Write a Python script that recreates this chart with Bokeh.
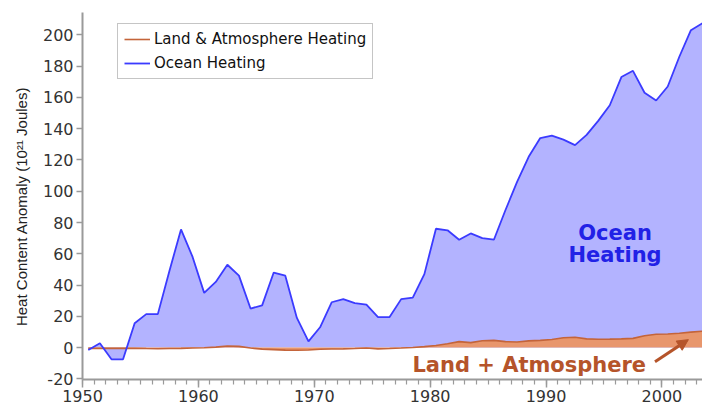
from bokeh.plotting import figure
from bokeh.models import (Range1d, SingleIntervalTicker, Legend, LegendItem,
                          Label, Arrow, NormalHead, ColumnDataSource, Title,
                          PrintfTickFormatter)
from bokeh.embed import file_html
from bokeh.resources import INLINE

# ---- data ----
years = [y + 0.5 for y in range(1950, 2004)]
ocean = [-1.5, 2.8, -7.5, -7.5, 15.6, 21.4, 21.4, 49, 75.6, 58,
         35, 42, 53, 46, 25, 27, 48, 46, 19, 4,
         13, 29, 31, 28.5, 27.5, 19.5, 19.5, 31, 32, 47,
         76, 75, 69, 73, 70, 69, 88, 106, 122, 134,
         135.5, 133, 129.5, 136, 145, 155, 173, 177, 163, 158,
         167, 186, 203, 207.5]
land = [-0.5, -0.5, -0.5, -0.5, -0.4, -0.6, -0.7, -0.6, -0.5, -0.3,
        -0.1, 0.3, 1.0, 0.8, -0.3, -1.0, -1.3, -1.6, -1.7, -1.5,
        -1.1, -0.9, -0.8, -0.6, -0.3, -0.8, -0.6, -0.3, 0.1, 0.6,
        1.3, 2.5, 3.8, 3.2, 4.4, 4.6, 3.8, 3.6, 4.3, 4.6,
        5.2, 6.3, 6.6, 5.6, 5.3, 5.4, 5.6, 5.9, 7.6, 8.5,
        8.7, 9.2, 9.9, 10.5]
zero = [0.0] * len(years)

series_labels = ["Land & Atmosphere Heating", "Ocean Heating"]
y_axis_title = "Heat Content Anomaly (10\u00b2\u00b9 Joules)"

src = ColumnDataSource(dict(x=years, ocean=ocean, land=land, zero=zero))

OCEAN_FILL = "#b3b3ff"
OCEAN_LINE = "#3b3bff"
LAND_FILL = "#e8966c"
LAND_LINE = "#c4643a"
BROWN = "#b5542a"
BLUE = "#2121e6"
AXIS = "#9a9a9a"

p = figure(width=702, height=410,
           x_range=Range1d(1950, 2003.5), y_range=Range1d(-20.4, 214.3),
           output_backend="svg", toolbar_location=None,
           min_border_left=82, min_border_right=0,
           min_border_top=12, min_border_bottom=31)
p.outline_line_color = None
p.grid.visible = False
p.background_fill_color = "white"

p.varea(x="x", y1="zero", y2="ocean", source=src, fill_color=OCEAN_FILL)
p.varea(x="x", y1="zero", y2="land", source=src, fill_color=LAND_FILL)
r_land = p.line(x="x", y="land", source=src, line_color=LAND_LINE, line_width=1.6)
r_ocean = p.line(x="x", y="ocean", source=src, line_color=OCEAN_LINE, line_width=1.8)

# axes
xa = p.xaxis[0]
xa.ticker = SingleIntervalTicker(interval=10, num_minor_ticks=10)
ya = p.yaxis[0]
ya.ticker = SingleIntervalTicker(interval=20, num_minor_ticks=0)
ya.formatter = PrintfTickFormatter(format="%d")
for ax in (xa, ya):
    ax.axis_line_color = AXIS
    ax.axis_line_width = 2
    ax.major_tick_line_color = AXIS
    ax.major_tick_line_width = 1.5
    ax.minor_tick_line_color = AXIS
    ax.minor_tick_line_width = 1.2
    ax.major_tick_in = 0
    ax.minor_tick_in = 0
    ax.major_label_text_font = "DejaVu Sans"
    ax.major_label_text_font_size = "16px"
    ax.major_label_text_color = "#333333"
xa.major_tick_out = 8
xa.minor_tick_out = 5
xa.major_label_standoff = 2
ya.major_tick_out = 6
ya.major_label_standoff = 3

# y axis title as a side title (rotated); trailing no-break spaces move it
# slightly downwards, as in the reference
p.add_layout(Title(text=y_axis_title + "\u00a0" * 5, align="center",
                   text_font="Liberation Sans", text_font_size="15px",
                   text_font_style="normal", text_color="#222222",
                   standoff=20), "left")

# legend
legend = Legend(items=[LegendItem(label=series_labels[0], renderers=[r_land]),
                       LegendItem(label=series_labels[1], renderers=[r_ocean])],
                location=(35, 300))
legend.border_line_color = "#8c8c8c"
legend.border_line_width = 1.5
legend.background_fill_color = "white"
legend.background_fill_alpha = 1
legend.label_text_font = "DejaVu Sans"
legend.label_text_font_size = "15px"
legend.label_text_color = "#111111"
legend.glyph_width = 26
legend.glyph_height = 18
legend.label_height = 18
legend.spacing = 6
legend.padding = 6
legend.label_standoff = 4
legend.margin = 0
p.add_layout(legend)

# annotations
p.add_layout(Label(x=1995.95, y=73.2, text="Ocean", text_align="center",
                   text_baseline="alphabetic", text_font="DejaVu Sans",
                   text_font_style="bold", text_font_size="21px", text_color=BLUE))
p.add_layout(Label(x=1995.95, y=59.3, text="Heating", text_align="center",
                   text_baseline="alphabetic", text_font="DejaVu Sans",
                   text_font_style="bold", text_font_size="21px", text_color=BLUE))
p.add_layout(Label(x=1988.55, y=-11.2, text="Land + Atmosphere", text_align="center",
                   text_baseline="alphabetic", text_font="DejaVu Sans",
                   text_font_style="bold", text_font_size="21px", text_color=BROWN))
p.add_layout(Arrow(end=NormalHead(size=11, fill_color=BROWN, line_color=BROWN),
                   x_start=1999.4, y_start=-9.0, x_end=2002.28, y_end=5.1,
                   line_color=BROWN, line_width=3))

open("out.html", "w").write(file_html(p, INLINE))
